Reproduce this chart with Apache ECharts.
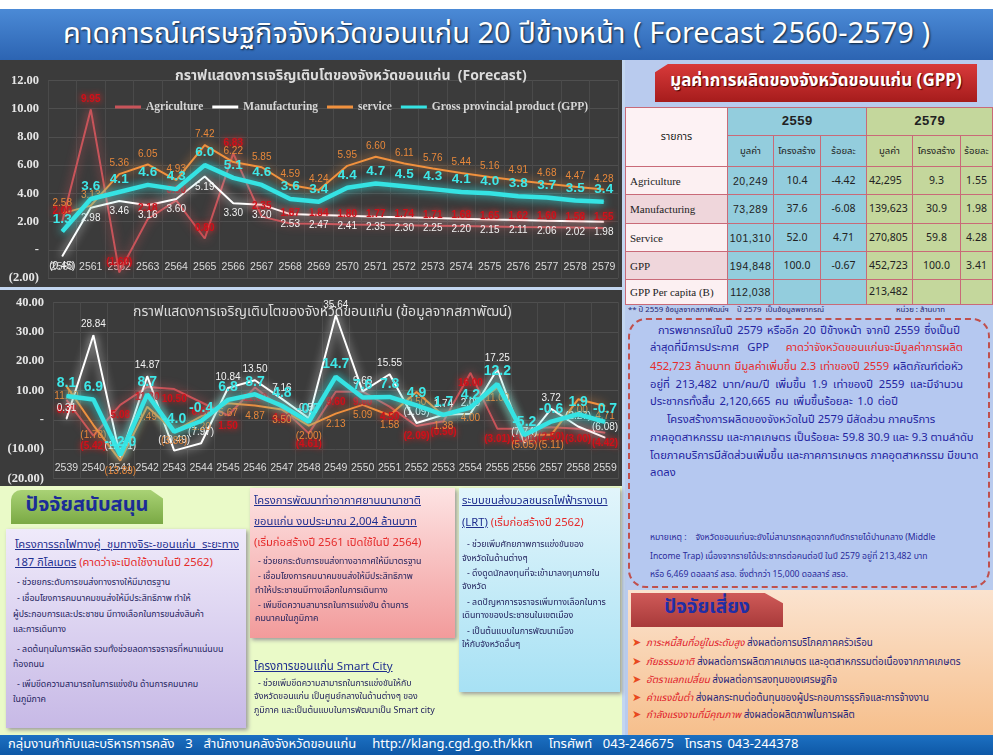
<!DOCTYPE html>
<html>
<head>
<meta charset="utf-8">
<script src="https://cdn.jsdelivr.net/npm/echarts@6/dist/echarts.min.js"></script>
<style>
  body {margin:0; width:993px; height:755px; overflow:hidden; background:#c3d6f0; position:relative;
        font-family:"Noto Sans Thai","Tahoma","Loma","Garuda","Noto Sans",sans-serif;}
  .abs {position:absolute;}
  .ln {position:absolute; white-space:nowrap; line-height:1;}
  .jl {text-align:justify; text-align-last:justify;}
  .red {color:#e52b2b;}
  .link {color:#1f2f8f; text-decoration:underline;}
  table.gpp {border-collapse:collapse; position:absolute; left:625px; top:107px; width:368px; font-size:10.5px;}
  table.gpp td {border:1px solid #c96a78; text-align:center; padding:0; color:#222;}
</style>
</head>
<body>
<div class="abs" style="left:0;top:0;width:993px;height:9px;background:#fff;"></div>
<div class="abs" style="left:0;top:9px;width:993px;height:51px;background:linear-gradient(#4b8ad6,#2c64b2);"></div>
<div class="ln" style="left:0;top:20px;width:993px;text-align:center;color:#fff;font-size:29px;text-shadow:1px 1px 2px #123;">คาดการณ์เศรษฐกิจจังหวัดขอนแก่น 20 ปีข้างหน้า ( Forecast 2560-2579 )</div>

<div id="c1" class="abs" style="left:0;top:60px;width:622px;height:227px;background:#3b3b3b;"></div>
<div id="c2" class="abs" style="left:0;top:290px;width:622px;height:196px;background:#3b3b3b;"></div>

<!-- right side -->
<div class="abs" style="left:625px;top:60px;width:368px;height:675px;background:#b9cbee;"></div>
<div class="abs" style="left:655px;top:64px;width:322px;height:38px;background:linear-gradient(#d83a3a,#a61c1c);clip-path:polygon(4% 0,100% 0,100% 100%,0 100%,0 22%);box-shadow:2px 2px 3px #555;"></div>
<div class="ln" style="left:655px;top:73px;width:322px;text-align:center;color:#fff;font-size:17px;font-weight:bold;text-shadow:1px 1px 1px #400;">มูลค่าการผลิตของจังหวัดขอนแก่น (GPP)</div>

<table class="gpp">
  <tr style="height:28px;">
    <td rowspan="2" style="width:101px;background:#fdf2f4;">รายการ</td>
    <td colspan="3" style="background:#93cddd;font-family:'Liberation Mono',monospace;font-weight:bold;font-size:13px;">2559</td>
    <td colspan="3" style="background:#c4d79c;font-family:'Liberation Mono',monospace;font-weight:bold;font-size:13px;">2579</td>
  </tr>
  <tr style="height:31px;font-size:9.5px;">
    <td style="width:45px;background:#93cddd;">มูลค่า</td><td style="width:46px;background:#93cddd;">โครงสร้าง</td><td style="width:45px;background:#93cddd;">ร้อยละ</td>
    <td style="width:45px;background:#c4d79c;">มูลค่า</td><td style="width:47px;background:#c4d79c;">โครงสร้าง</td><td style="background:#c4d79c;">ร้อยละ</td>
  </tr>
  <tbody id="tb"></tbody>
</table>
<div class="ln" style="left:628px;top:307px;font-size:7.8px;color:#1d1d6e;">** ปี 2559 ข้อมูลจากสภาพัฒน์ฯ &nbsp;&nbsp; ปี 2579 &nbsp;เป็นข้อมูลพยากรณ์</div>
<div class="ln" style="left:896px;top:307px;font-size:7.8px;color:#1d1d6e;">หน่วย : ล้านบาท</div>

<div class="abs" style="left:628px;top:318px;width:358px;height:266px;border:2px dashed #c0504d;border-radius:18px;background:#b5c8f0;"></div>
<div style="color:#2323a0;font-size:11.2px;">
  <div class="ln jl" style="left:658px;top:325px;width:302px;">การพยากรณ์ในปี 2579 หรืออีก 20 ปีข้างหน้า จากปี 2559 ซึ่งเป็นปี</div>
  <div class="ln jl" style="left:650px;top:342px;width:313px;">ล่าสุดที่มีการประกาศ GPP &nbsp;<span class="red">คาดว่าจังหวัดขอนแก่นจะมีมูลค่าการผลิต</span></div>
  <div class="ln jl" style="left:650px;top:361px;width:313px;"><span class="red">452,723 ล้านบาท มีมูลค่าเพิ่มขึ้น 2.3 เท่าของปี 2559</span> ผลิตภัณฑ์ต่อหัว</div>
  <div class="ln jl" style="left:650px;top:379px;width:313px;">อยู่ที่ 213,482 บาท/คน/ปี เพิ่มขึ้น 1.9 เท่าของปี 2559 และมีจำนวน</div>
  <div class="ln jl" style="left:650px;top:396px;width:248px;">ประชากรทั้งสิ้น 2,120,665 คน เพิ่มขึ้นร้อยละ 1.0 ต่อปี</div>
  <div class="ln jl" style="left:667px;top:414px;width:268px;">โครงสร้างการผลิตของจังหวัดในปี 2579 มีสัดส่วน ภาคบริการ</div>
  <div class="ln jl" style="left:650px;top:432px;width:313px;">ภาคอุตสาหกรรม และภาคเกษตร เป็นร้อยละ 59.8 30.9 และ 9.3 ตามลำดับ</div>
  <div class="ln jl" style="left:650px;top:450px;width:313px;">โดยภาคบริการมีสัดส่วนเพิ่มขึ้น และภาคการเกษตร ภาคอุตสาหกรรม มีขนาด</div>
  <div class="ln" style="left:650px;top:467px;">ลดลง</div>
</div>
<div style="color:#2a2a9a;font-size:8.6px;">
  <div class="ln" style="left:650px;top:534px;">หมายเหตุ : &nbsp;&nbsp; จังหวัดขอนแก่นจะยังไม่สามารถหลุดจากกับดักรายได้ปานกลาง (Middle</div>
  <div class="ln" style="left:650px;top:553px;">Income Trap) เนื่องจากรายได้ประชากรต่อคนต่อปี ในปี 2579 อยู่ที่ 213,482 บาท</div>
  <div class="ln" style="left:650px;top:571px;">หรือ 6,469 ดอลลาร์ สรอ. ซึ่งต่ำกว่า 15,000 ดอลลาร์ สรอ.</div>
</div>

<div class="abs" style="left:628px;top:590px;width:365px;height:145px;background:linear-gradient(#fbe3cf,#f6bf8c);"></div>
<div class="abs" style="left:631px;top:593px;width:152px;height:34px;background:linear-gradient(#cf5a58,#a83a3a);clip-path:polygon(0 0,88% 0,100% 30%,100% 100%,0 100%);box-shadow:2px 2px 3px #777;"></div>
<div class="ln" style="left:631px;top:598px;width:152px;text-align:center;color:#1f2ea6;font-size:19px;font-weight:bold;">ปัจจัยเสี่ยง</div>
<div id="risk" style="font-size:9.8px;color:#1e1e7a;"></div>

<!-- left bottom -->
<div class="abs" style="left:0;top:486px;width:622px;height:249px;background:#eafac8;"></div>
<div class="abs" style="left:11px;top:490px;width:152px;height:34px;background:linear-gradient(#a9d275,#7aa944);border-radius:10px 0 0 0;clip-path:polygon(0 0,92% 0,100% 25%,100% 100%,0 100%);box-shadow:2px 2px 3px #888;"></div>
<div class="ln" style="left:11px;top:495px;width:152px;text-align:center;color:#1b2c97;font-size:20px;font-weight:bold;">ปัจจัยสนับสนุน</div>

<div class="abs" style="left:6px;top:529px;width:240px;height:199px;background:linear-gradient(#efeafa,#c7b9e6);box-shadow:2px 2px 4px #999;"></div>
<div style="font-size:11.2px;">
  <div class="ln link jl" style="left:15px;top:539px;width:224px;">โครงการรถไฟทางคู่ ชุมทางจิระ-ขอนแก่น ระยะทาง</div>
  <div class="ln" style="left:15px;top:557px;"><span class="link">187 กิโลเมตร</span><span class="red"> (คาดว่าจะเปิดใช้งานในปี 2562)</span></div>
</div>
<div style="font-size:8.8px;color:#23235e;">
  <div class="ln" style="left:17px;top:579px;">- ช่วยยกระดับการขนส่งทางรางให้มีมาตรฐาน</div>
  <div class="ln" style="left:17px;top:595px;">- เชื่อมโยงการคมนาคมขนส่งให้มีประสิทธิภาพ ทำให้</div>
  <div class="ln" style="left:13px;top:611px;">ผู้ประกอบการและประชาชน มีทางเลือกในการขนส่งสินค้า</div>
  <div class="ln" style="left:13px;top:626px;">และการเดินทาง</div>
  <div class="ln" style="left:17px;top:646px;">- ลดต้นทุนในการผลิต รวมทั้งช่วยลดการจราจรที่หนาแน่นบน</div>
  <div class="ln" style="left:13px;top:661px;">ท้องถนน</div>
  <div class="ln" style="left:17px;top:681px;">- เพิ่มขีดความสามารถในการแข่งขัน ด้านการคมนาคม</div>
  <div class="ln" style="left:13px;top:696px;">ในภูมิภาค</div>
</div>

<div class="abs" style="left:250px;top:488px;width:205px;height:150px;background:linear-gradient(#fde3e3,#f29b9b);box-shadow:2px 2px 4px #999;"></div>
<div style="font-size:11.2px;">
  <div class="ln link" style="left:254px;top:495px;">โครงการพัฒนาท่าอากาศยานนานาชาติ</div>
  <div class="ln link" style="left:254px;top:516px;">ขอนแก่น งบประมาณ 2,004 ล้านบาท</div>
  <div class="ln red" style="left:254px;top:537px;">(เริ่มก่อสร้างปี 2561 เปิดใช้ในปี 2564)</div>
</div>
<div style="font-size:8.8px;color:#23235e;">
  <div class="ln" style="left:258px;top:558px;">- ช่วยยกระดับการขนส่งทางอากาศให้มีมาตรฐาน</div>
  <div class="ln" style="left:258px;top:573px;">- เชื่อมโยงการคมนาคมขนส่งให้มีประสิทธิภาพ</div>
  <div class="ln" style="left:255px;top:587px;">ทำให้ประชาชนมีทางเลือกในการเดินทาง</div>
  <div class="ln" style="left:258px;top:602px;">- เพิ่มขีดความสามารถในการแข่งขัน ด้านการ</div>
  <div class="ln" style="left:255px;top:615px;">คมนาคมในภูมิภาค</div>
</div>
<div class="ln link" style="left:254px;top:661px;font-size:11.5px;">โครงการขอนแก่น Smart City</div>
<div style="font-size:8.8px;color:#23235e;">
  <div class="ln" style="left:258px;top:680px;">- ช่วยเพิ่มขีดความสามารถในการแข่งขันให้กับ</div>
  <div class="ln" style="left:254px;top:693px;">จังหวัดขอนแก่น เป็นศูนย์กลางในด้านต่างๆ ของ</div>
  <div class="ln" style="left:254px;top:707px;">ภูมิภาค และเป็นต้นแบบในการพัฒนาเป็น Smart city</div>
</div>

<div class="abs" style="left:459px;top:488px;width:161px;height:204px;background:linear-gradient(#e2f5fb,#a7e1f4);box-shadow:2px 2px 4px #999;"></div>
<div style="font-size:11.2px;">
  <div class="ln link" style="left:462px;top:495px;">ระบบขนส่งมวลชนรถไฟฟ้ารางเบา</div>
  <div class="ln" style="left:462px;top:517px;"><span class="link">(LRT)</span><span class="red"> (เริ่มก่อสร้างปี 2562)</span></div>
</div>
<div style="font-size:8.8px;color:#23235e;">
  <div class="ln" style="left:467px;top:541px;">- ช่วยเพิ่มศักยภาพการแข่งขันของ</div>
  <div class="ln" style="left:462px;top:555px;">จังหวัดในด้านต่างๆ</div>
  <div class="ln" style="left:467px;top:570px;">- ดึงดูดนักลงทุนที่จะเข้ามาลงทุนภายใน</div>
  <div class="ln" style="left:462px;top:583px;">จังหวัด</div>
  <div class="ln" style="left:467px;top:599px;">- ลดปัญหาการจราจรเพิ่มทางเลือกในการ</div>
  <div class="ln" style="left:462px;top:612px;">เดินทางของประชาชนในเขตเมือง</div>
  <div class="ln" style="left:467px;top:628px;">- เป็นต้นแบบในการพัฒนาเมือง</div>
  <div class="ln" style="left:462px;top:641px;">ให้กับจังหวัดอื่นๆ</div>
</div>

<div class="abs" style="left:0;top:735px;width:993px;height:20px;background:linear-gradient(#1c70c2,#0e58a6);"></div>
<div class="ln" style="left:8px;top:738px;color:#fff;font-size:13px;word-spacing:2px;">กลุ่มงานกำกับและบริหารการคลัง &nbsp;3 &nbsp;สำนักงานคลังจังหวัดขอนแก่น &nbsp; http://klang.cgd.go.th/kkn &nbsp; โทรศัพท์ &nbsp;043-246675 &nbsp;โทรสาร 043-244378</div>

<script>
// ---- forecast 2560-2579 (growth %)
const years1 = ['2560','2561','2562','2563','2564','2565','2566','2567','2568','2569','2570','2571','2572','2573','2574','2575','2576','2577','2578','2579'];
const agri1 = [2.0, 9.95, -1.60, 2.18, 3.5, 0.80, 6.83, 2.35, 1.87, 1.84, 1.80, 1.77, 1.74, 1.71, 1.68, 1.65, 1.62, 1.60, 1.58, 1.55];
const manu1 = [-0.45, 2.98, 3.46, 3.16, 3.60, 5.19, 3.30, 3.20, 2.53, 2.47, 2.41, 2.35, 2.30, 2.25, 2.20, 2.15, 2.11, 2.06, 2.02, 1.98];
const serv1 = [2.58, 3.13, 5.36, 6.05, 4.93, 7.42, 6.22, 5.85, 4.59, 4.24, 5.95, 6.60, 6.11, 5.76, 5.44, 5.16, 4.91, 4.68, 4.47, 4.28];
const gpp1 = [1.3, 3.6, 4.1, 4.6, 4.3, 6.0, 5.1, 4.6, 3.6, 3.4, 4.4, 4.7, 4.5, 4.3, 4.1, 4.0, 3.8, 3.7, 3.5, 3.4];

// ---- history 2539-2559 (growth %, NESDB)
const years2 = ['2539','2540','2541','2542','2543','2544','2545','2546','2547','2548','2549','2550','2551','2552','2553','2554','2555','2556','2557','2558','2559'];
const agri2 = [6.77, -5.42, 5.08, 11.2, 10.5, 6.0, 1.5, 11.0, 4.0, -4.61, 9.6, 9.6, 4.5, -2.09, -0.5, 16.0, -3.01, -3.0, -2.5, -3.00, -4.42];
const manu2 = [0.31, 28.84, -12.71, 14.87, -10.49, -7.97, 10.84, 13.50, 7.16, 0.5, 35.64, 9.68, 15.55, -1.09, 1.74, 2.05, 17.25, -7.74, 3.72, -2.27, -6.08];
const serv2 = [11.5, -1.78, -13.89, 4.49, -3.86, 1.2, 5.67, 4.87, 3.50, -2.0, 2.13, 5.09, 1.58, 9.5, 1.38, 4.00, 11.0, -5.05, -5.11, 7.0, 4.71];
const gpp2 = [8.1, 6.9, -12.0, 8.7, -4.0, -0.4, 6.8, 8.7, 4.8, -0.7, 14.7, 7.6, 7.8, 4.9, 1.7, 4.2, 12.2, -5.2, -0.6, 1.9, -0.7];

// ---- GPP table
const rowNames = ['Agriculture', 'Manufacturing', 'Service', 'GPP', 'GPP Per capita (B)'];
const val59 = ['20,249', '73,289', '101,310', '194,848', '112,038'];
const str59 = ['10.4', '37.6', '52.0', '100.0', ''];
const pct59 = ['-4.42', '-6.08', '4.71', '-0.67', ''];
const val79 = ['42,295', '139,623', '270,805', '452,723', '213,482'];
const str79 = ['9.3', '30.9', '59.8', '100.0', ''];
const pct79 = ['1.55', '1.98', '4.28', '3.41', ''];

const riskHead = ['ภาระหนี้สินที่อยู่ในระดับสูง', 'ภัยธรรมชาติ', 'อัตราแลกเปลี่ยน', 'ค่าแรงขั้นต่ำ', 'กำลังแรงงานที่มีคุณภาพ'];
const riskText = ['ส่งผลต่อการบริโภคภาคครัวเรือน', 'ส่งผลต่อการผลิตภาคเกษตร และอุตสาหกรรมต่อเนื่องจากภาคเกษตร', 'ส่งผลต่อการลงทุนของเศรษฐกิจ', 'ส่งผลกระทบต่อต้นทุนของผู้ประกอบการธุรกิจและการจ้างงาน', 'ส่งผลต่อผลิตภาพในการผลิต'];

const tb = document.getElementById('tb');
const rowH = [28, 29, 28, 28, 25];
rowNames.forEach((n, i) => {
  const lb = i % 2 ? '#efd6db' : '#fcf0f2';
  tb.innerHTML += `<tr style="height:${rowH[i]}px;">
    <td style="text-align:left;padding-left:4px;background:${lb};font-family:'Liberation Serif',serif;font-size:11px;">${n}</td>
    <td style="background:#93cddd;font-family:'Liberation Sans',sans-serif;font-size:10.5px;letter-spacing:0.5px;">${val59[i]}</td>
    <td style="background:#93cddd;">${str59[i]}</td><td style="background:#93cddd;">${pct59[i]}</td>
    <td style="background:#c4d79c;text-align:left;padding-left:2px;">${val79[i]}</td>
    <td style="background:#c4d79c;">${str79[i]}</td><td style="background:#c4d79c;">${pct79[i]}</td></tr>`;
});

const risk = document.getElementById('risk');
const riskY = [637, 656, 674, 692, 709];
riskHead.forEach((h, i) => {
  risk.innerHTML += `<div class="ln" style="left:632px;top:${riskY[i]}px;"><span style="color:#e8491d;font-size:11px;">&#10148;</span>&nbsp; <i style="color:#e0202a;">${h}</i> ${riskText[i]}</div>`;
});

const thai = '"Noto Sans Thai","Tahoma","Loma","Garuda","Noto Sans",sans-serif';
const fmt2 = p => p.value < 0 ? '(' + Math.abs(p.value).toFixed(2) + ')' : p.value.toFixed(2);
const fmt1 = p => p.value.toFixed(1);
const yFmt = v => v === 0 ? '-' : (v < 0 ? '(' + Math.abs(v).toFixed(2) + ')' : v.toFixed(2));

function line(name, data, color, width, digits, pos, labelColor) {
  return {
    name, type: 'line', data, symbol: 'circle', symbolSize: 1,
    itemStyle: {color},
    lineStyle: {color, width, shadowBlur: 10, shadowColor: color},
    label: {show: true, position: pos, formatter: digits === 1 ? fmt1 : fmt2, color: labelColor,
      fontFamily: 'Liberation Sans', fontSize: 10},
    z: width > 3 ? 5 : 3
  };
}

function axes(years, min, max, interval) {
  return {
    xAxis: {
      type: 'category', data: years, boundaryGap: true,
      axisLine: {show: false}, axisTick: {show: false},
      splitLine: {show: true, interval: 0, lineStyle: {color: '#4a4a4a'}},
      axisLabel: {inside: true, interval: 0, margin: 5, color: '#dadada', fontFamily: 'Liberation Sans', fontSize: 10.5}
    },
    yAxis: {
      type: 'value', min, max, interval,
      axisLine: {show: false}, axisTick: {show: false},
      splitLine: {lineStyle: {color: '#4f4f4f'}},
      axisLabel: {formatter: yFmt, color: '#e6e6e6', fontFamily: 'Liberation Serif', fontWeight: 'bold', fontSize: 12.5, margin: 9}
    }
  };
}

function styleSeries(s, gppSize) {
  Object.assign(s[0].label, {fontWeight: 'bold', textShadowColor: '#ff2020', textShadowBlur: 6});
  Object.assign(s[3].label, {fontSize: gppSize, fontWeight: 'bold'});
  return s;
}

const chart1 = echarts.init(document.getElementById('c1'));
const s1 = styleSeries([
  line('Agriculture', agri1, '#c8545a', 2, 2, 'top', '#d0101a'),
  line('Manufacturing', manu1, '#ffffff', 2, 2, 'bottom', '#f2f2f2'),
  line('service', serv1, '#f0913e', 2, 2, 'top', '#e8883a'),
  line('Gross provincial product (GPP)', gpp1, '#35e3e3', 4.5, 1, 'top', '#3ee8e8')
], 13.5);
chart1.setOption(Object.assign({
  animation: false,
  grid: {left: 48, right: 4, top: 20.5, bottom: 9},
  title: {text: 'กราฟแสดงการเจริญเติบโตของจังหวัดขอนแก่น  (Forecast)', left: 170, top: 5,
    textStyle: {color: '#dcdcdc', fontSize: 14, fontWeight: 'bold', fontFamily: thai}},
  legend: {left: 110, top: 36, itemWidth: 26, itemHeight: 3, itemGap: 9, icon: 'rect', width: 512,
    textStyle: {color: '#d6d6d6', fontFamily: 'Liberation Serif', fontWeight: 'bold', fontSize: 11.5},
    data: s1.map(s => s.name)},
  series: s1
}, axes(years1, -2, 12, 2)));

const chart2 = echarts.init(document.getElementById('c2'));
const s2 = styleSeries([
  line('Agriculture', agri2, '#c8545a', 2, 2, 'bottom', '#d0101a'),
  line('Manufacturing', manu2, '#ffffff', 2, 2, 'top', '#f2f2f2'),
  line('service', serv2, '#f0913e', 2, 2, 'bottom', '#e8883a'),
  line('GPP', gpp2, '#35e3e3', 4.5, 1, 'top', '#3ee8e8')
], 14);
chart2.setOption(Object.assign({
  animation: false,
  grid: {left: 53, right: 3.5, top: 12.5, bottom: 7.5},
  title: {text: 'กราฟแสดงการเจริญเติบโตของจังหวัดขอนแก่น (ข้อมูลจากสภาพัฒน์)', left: 128, top: 11,
    textStyle: {color: '#dcdcdc', fontSize: 14, fontWeight: 'normal', fontFamily: thai}},
  series: s2
}, axes(years2, -20, 40, 10)));
</script>
</body>
</html>
